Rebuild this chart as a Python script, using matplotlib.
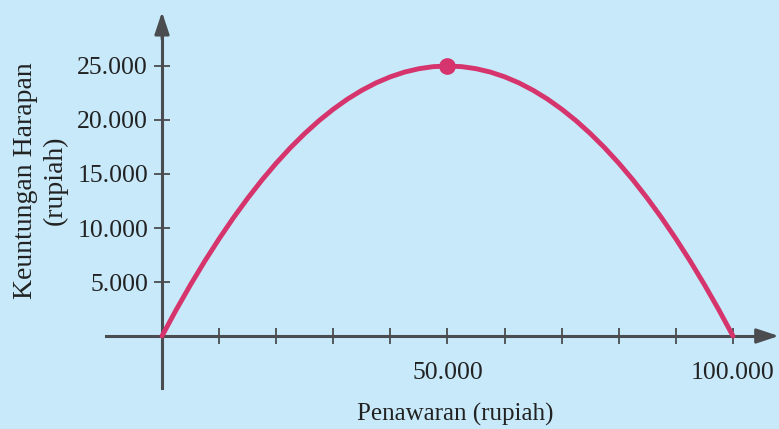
import matplotlib
matplotlib.use("Agg")
import matplotlib.pyplot as plt

# --- data ---
penawaran = [0, 2500, 5000, 7500, 10000, 12500, 15000, 17500, 20000, 22500, 25000,
             27500, 30000, 32500, 35000, 37500, 40000, 42500, 45000, 47500, 50000,
             52500, 55000, 57500, 60000, 62500, 65000, 67500, 70000, 72500, 75000,
             77500, 80000, 82500, 85000, 87500, 90000, 92500, 95000, 97500, 100000]
keuntungan = [0, 2440, 4750, 6940, 9000, 10940, 12750, 14440, 16000, 17440, 18750,
              19940, 21000, 21940, 22750, 23440, 24000, 24440, 24750, 24940, 25000,
              24940, 24750, 24440, 24000, 23440, 22750, 21940, 21000, 19940, 18750,
              17440, 16000, 14440, 12750, 10940, 9000, 6940, 4750, 2440, 0]
puncak_x = [50000]
puncak_y = [25000]
y_ticks = [5000, 10000, 15000, 20000, 25000]
y_tick_labels = ["5.000", "10.000", "15.000", "20.000", "25.000"]
x_minor = [10000, 20000, 30000, 40000, 60000, 70000, 80000, 90000]
x_major = [50000, 100000]
x_tick_labels = ["50.000", "100.000"]

BG = "#c7e9f9"
AXC = "#4a4c50"
CURVE = "#d6346c"
TXT = "#222222"
plt.rcParams["font.family"] = ["Liberation Serif", "DejaVu Serif"]

fig = plt.figure(figsize=(7.79, 4.29), dpi=100, facecolor=BG)
ax = fig.add_axes([0, 0, 1, 1], facecolor=BG)
ax.set_xlim(-28371, 108056)
ax.set_ylim(-8611, 31111)

# axes through the origin
for s in ["top", "right"]:
    ax.spines[s].set_visible(False)
ax.spines["left"].set_position(("data", 0))
ax.spines["bottom"].set_position(("data", 0))
ax.spines["left"].set_bounds(-4800, 28500)
ax.spines["bottom"].set_bounds(-9800, 106000)
for s in ["left", "bottom"]:
    ax.spines[s].set_color(AXC)
    ax.spines[s].set_linewidth(2.2)

# arrow heads
arr = dict(arrowstyle="-|>,head_length=0.9,head_width=0.3", color=AXC, lw=2.0,
           mutation_scale=15, shrinkA=0, shrinkB=0)
ax.annotate("", xy=(0, 30000), xytext=(0, 27500), arrowprops=arr, annotation_clip=False)
ax.annotate("", xy=(108000, 0), xytext=(104500, 0), arrowprops=arr, annotation_clip=False)

ax.set_yticks(y_ticks)
ax.set_yticklabels(y_tick_labels)
ax.set_xticks(x_major)
ax.set_xticklabels(x_tick_labels)
ax.set_xticks(x_minor, minor=True)
ax.tick_params(axis="both", which="both", direction="inout", length=12, width=1.3,
               colors=AXC, labelcolor=TXT, labelsize=18.5)
ax.tick_params(axis="y", pad=4)
ax.tick_params(axis="x", pad=13)

ax.plot(penawaran, keuntungan, color=CURVE, linewidth=3.5, solid_capstyle="round", zorder=3)
ax.plot(puncak_x, puncak_y, "o", color=CURVE, markersize=11, zorder=4)

fig.text(0.584, 0.033, "Penawaran (rupiah)", ha="center", va="center", fontsize=18, color=TXT)
fig.text(0.052, 0.58, "Keuntungan Harapan\n(rupiah)", ha="center", va="center", rotation=90,
         fontsize=20, color=TXT, linespacing=1.25)

fig.savefig("out.png", dpi=100, facecolor=BG)
